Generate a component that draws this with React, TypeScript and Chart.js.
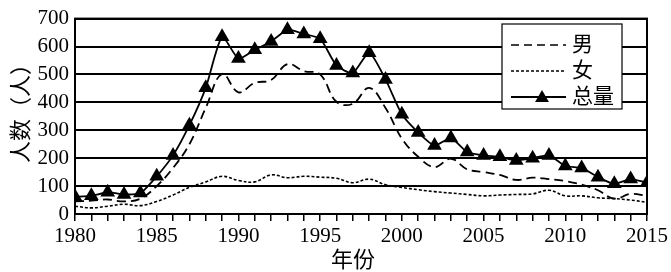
import React, { useEffect, useRef } from 'react';
import { Chart, registerables } from 'chart.js';
Chart.register(...registerables);

const years = [1980, 1981, 1982, 1983, 1984, 1985, 1986, 1987, 1988, 1989, 1990, 1991, 1992, 1993, 1994, 1995, 1996, 1997, 1998, 1999, 2000, 2001, 2002, 2003, 2004, 2005, 2006, 2007, 2008, 2009, 2010, 2011, 2012, 2013, 2014, 2015];
const male = [45, 48, 52, 45, 55, 100, 165, 250, 380, 502, 436, 470, 480, 537, 512, 500, 402, 395, 452, 380, 270, 205, 168, 198, 160, 150, 140, 122, 130, 125, 118, 105, 85, 55, 72, 65];
const female = [28, 22, 28, 35, 30, 45, 68, 95, 115, 135, 120, 115, 140, 130, 135, 132, 128, 112, 125, 105, 95, 87, 80, 75, 70, 65, 68, 70, 72, 85, 65, 65, 58, 55, 50, 42];
const total = [62, 65, 78, 70, 75, 135, 210, 318, 452, 635, 557, 588, 618, 660, 645, 628, 532, 505, 578, 482, 357, 292, 245, 272, 222, 210, 205, 192, 200, 210, 172, 165, 132, 108, 125, 112];
const seriesNames = ['男', '女', '总量'];
const yTitle = '人数（人）';
const xTitle = '年份';

const NUM_FONT = '"Liberation Serif", "Times New Roman", serif';
const CJK_FONT = '"Liberation Serif", "Noto Sans CJK SC", serif';

const framePlugin = {
  id: 'framePlugin',
  afterDraw(chart: any) {
    const { ctx, chartArea } = chart;
    const { left, right, top, bottom } = chartArea;
    ctx.save();
    ctx.strokeStyle = '#000';
    ctx.lineWidth = 2;
    ctx.strokeRect(left, top, right - left, bottom - top);

    // legend box
    const bx = 502, by = 24, bw = 120, bh = 85;
    ctx.fillStyle = '#fff';
    ctx.fillRect(bx, by, bw, bh);
    ctx.lineWidth = 1.2;
    ctx.strokeRect(bx, by, bw, bh);
    const rows = [45, 71, 97];
    const styles = [
      { dash: [8, 5], w: 1.6 },
      { dash: [3, 2], w: 1.4 },
      { dash: [], w: 1.8 },
    ];
    ctx.font = '21px ' + CJK_FONT;
    ctx.textBaseline = 'middle';
    ctx.textAlign = 'left';
    rows.forEach((ry, i) => {
      ctx.beginPath();
      ctx.setLineDash(styles[i].dash);
      ctx.lineWidth = styles[i].w;
      ctx.moveTo(511, ry);
      ctx.lineTo(566, ry);
      ctx.stroke();
      ctx.setLineDash([]);
      if (i === 2) {
        const r = 8;
        const cx = 542, cy = ry + 1;
        ctx.beginPath();
        ctx.moveTo(cx, cy - r);
        ctx.lineTo(cx + r * Math.sqrt(3) / 2, cy + r / 2);
        ctx.lineTo(cx - r * Math.sqrt(3) / 2, cy + r / 2);
        ctx.closePath();
        ctx.fillStyle = '#000';
        ctx.fill();
      }
      ctx.fillStyle = '#000';
      ctx.fillText(seriesNames[i], 572, ry);
    });

    // axis titles
    ctx.font = '22px ' + CJK_FONT;
    ctx.textAlign = 'center';
    ctx.textBaseline = 'middle';
    ctx.fillText(xTitle, 353, 261);
    ctx.save();
    ctx.translate(22, 108);
    ctx.rotate(-Math.PI / 2);
    ctx.fillText(yTitle, 0, 0);
    ctx.restore();
    ctx.restore();
  },
};

export default function App() {
  const ref = useRef<HTMLCanvasElement | null>(null);
  useEffect(() => {
    document.body.style.margin = '0';
    const chart = new Chart(ref.current as HTMLCanvasElement, {
      type: 'line',
      data: {
        datasets: [
          {
            label: seriesNames[0],
            data: years.map((y, i) => ({ x: y, y: male[i] })),
            borderColor: '#000',
            borderWidth: 1.8,
            borderDash: [9, 5],
            pointRadius: 0,
            tension: 0.4,
            fill: false,
          },
          {
            label: seriesNames[1],
            data: years.map((y, i) => ({ x: y, y: female[i] })),
            borderColor: '#000',
            borderWidth: 1.6,
            borderDash: [3, 2],
            pointRadius: 0,
            tension: 0.4,
            fill: false,
          },
          {
            label: seriesNames[2],
            data: years.map((y, i) => ({ x: y, y: total[i] })),
            borderColor: '#000',
            borderWidth: 1.8,
            pointStyle: 'triangle',
            pointRadius: 8.5,
            pointBackgroundColor: '#000',
            pointBorderColor: '#000',
            pointBorderWidth: 0,
            tension: 0.2,
            fill: false,
          },
        ],
      },
      options: {
        animation: false,
        responsive: false,
        maintainAspectRatio: false,
        layout: { padding: { top: 7, right: 22, left: 0, bottom: 0 } },
        plugins: { legend: { display: false }, tooltip: { enabled: false } },
        scales: {
          x: {
            type: 'linear',
            min: 1980,
            max: 2015,
            afterFit(scale: any) { scale.height = 58; },
            ticks: {
              stepSize: 1,
              autoSkip: false,
              maxRotation: 0,
              padding: 3,
              color: '#000',
              font: { family: NUM_FONT, size: 21 },
              callback: (v: any) => (Number(v) % 5 === 0 ? String(v) : ''),
            },
            grid: {
              drawOnChartArea: false,
              drawTicks: true,
              tickLength: 7,
              color: '#000',
              lineWidth: 1.5,
            },
            border: { display: true, color: '#000', width: 2 },
          },
          y: {
            min: 0,
            max: 700,
            afterFit(scale: any) { scale.width = 75; },
            ticks: {
              stepSize: 100,
              autoSkip: false,
              padding: 6,
              color: '#000',
              font: { family: NUM_FONT, size: 21 },
            },
            grid: {
              drawTicks: false,
              color: '#000',
              lineWidth: 2,
            },
            border: { display: true, color: '#000', width: 2 },
          },
        },
      },
      plugins: [framePlugin],
    });
    return () => chart.destroy();
  }, []);
  return (
    <div style={{ position: 'absolute', left: 0, top: 0, width: 671, height: 272, background: '#fff' }}>
      <canvas ref={ref} width={671} height={272} style={{ width: 671, height: 272, display: 'block' }} />
    </div>
  );
}
